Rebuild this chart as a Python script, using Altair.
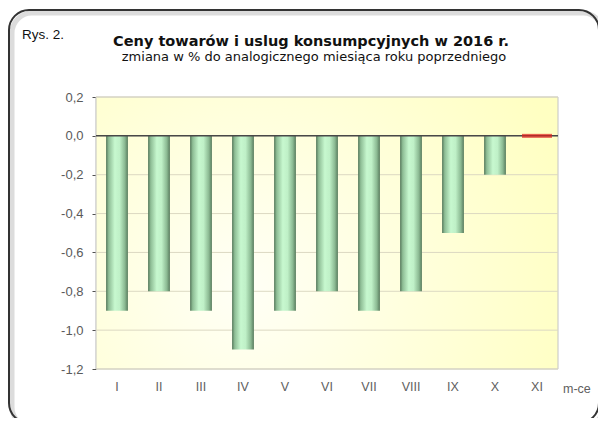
import altair as alt
import pandas as pd

months = ["I", "II", "III", "IV", "V", "VI", "VII", "VIII", "IX", "X", "XI"]
values = [-0.9, -0.8, -0.9, -1.1, -0.9, -0.8, -0.9, -0.8, -0.5, -0.2, 0.0]
y_ticks = [-1.2, -1.0, -0.8, -0.6, -0.4, -0.2, 0.0, 0.2]

label_fig = "Rys. 2."
title_main = "Ceny towarów i uslug konsumpcyjnych w 2016 r."
title_sub = "zmiana w % do analogicznego miesiąca roku poprzedniego"
x_unit = "m-ce"

df = pd.DataFrame({"month": months, "value": values})
grid_df = pd.DataFrame({"value": y_ticks})
FONT = "Liberation Sans"
TFONT = "DejaVu Sans"

x_enc = alt.X("month:N", sort=months,
              scale=alt.Scale(paddingInner=0.48, paddingOuter=0.24),
              axis=alt.Axis(title=None, labelAngle=0, ticks=False, domain=False,
                            labelPadding=11, labelFontSize=12.5, labelColor="#606060",
                            labelFont=FONT, grid=False))
y_scale = alt.Scale(domain=[-1.2, 0.2], nice=False, zero=False)
y_axis = alt.Axis(title=None, values=y_ticks, tickCount=20, grid=False,
                  labelOverlap=False, labelFlush=False, labelBound=False,
                  domainColor="#505050", domainWidth=1.2,
                  tickColor="#505050", tickSize=4, labelPadding=9,
                  labelFontSize=13, labelColor="#5a5a5a", labelFont=FONT,
                  labelExpr="replace(replace(format(datum.value, '.1f'), '.', ','), '\u2212', '-')")
y_enc = alt.Y("value:Q", scale=y_scale, axis=y_axis)

bar_grad = alt.LinearGradient(
    gradient="linear", x1=0, x2=1, y1=0, y2=0,
    stops=[alt.GradientStop(offset=0, color="#54775a"),
           alt.GradientStop(offset=0.12, color="#8ebd95"),
           alt.GradientStop(offset=0.4, color="#c7f8cf"),
           alt.GradientStop(offset=0.62, color="#bff0c7"),
           alt.GradientStop(offset=0.86, color="#8bb992"),
           alt.GradientStop(offset=1, color="#587b5d")])

bg_grad = alt.RadialGradient(gradient="radial", x1=0.32, y1=0.62, r1=0, x2=0.32, y2=0.62, r2=0.75,
                             stops=[alt.GradientStop(offset=0, color="#fffff6"),
                                    alt.GradientStop(offset=1, color="#ffffc2")])

one = alt.Data(values=[{}])

plot_bg = alt.Chart(one).mark_rect(fill=bg_grad, stroke="#c4c4c4", strokeWidth=1).encode(
    x=alt.value(0), x2=alt.value(462), y=alt.value(0), y2=alt.value(272))

grid = alt.Chart(grid_df).mark_rule(color="#dcd9c2", strokeWidth=1).encode(y=y_enc)

base = alt.Chart(df)
bars = base.transform_filter("datum.month != 'XI'").mark_bar(fill=bar_grad).encode(
    x=x_enc, y=y_enc, y2=alt.datum(0))
red = base.transform_filter("datum.month == 'XI'").mark_tick(
    color="#e0201c", thickness=4, size=30, orient="horizontal").encode(x=x_enc, y=y_enc)
zero = alt.Chart(one).mark_rule(color="#484848", strokeWidth=1.5).encode(
    y=alt.datum(0))

shadow = alt.Chart(one).mark_rect(fillOpacity=0, stroke="#c4c4c4", strokeWidth=5,
                                  strokeOpacity=0.6, cornerRadius=20).encode(
    x=alt.value(-84), x2=alt.value(507), y=alt.value(-84), y2=alt.value(330))
frame = alt.Chart(one).mark_rect(fillOpacity=0, stroke="#333333", strokeWidth=2,
                                 cornerRadius=20).encode(
    x=alt.value(-87), x2=alt.value(503), y=alt.value(-87), y2=alt.value(326))

t_fig = alt.Chart(one).mark_text(text=label_fig, font=FONT, fontSize=13.5, align="left",
                                 baseline="alphabetic", color="#111111").encode(
    x=alt.value(-74), y=alt.value(-58))
t_main = alt.Chart(one).mark_text(text=title_main, font=TFONT, fontSize=14.5, fontWeight="bold",
                                  align="center", baseline="alphabetic", color="#111111").encode(
    x=alt.value(215), y=alt.value(-51))
t_sub = alt.Chart(one).mark_text(text=title_sub, font=TFONT, fontSize=13, align="center",
                                 baseline="alphabetic", color="#111111").encode(
    x=alt.value(218), y=alt.value(-36))
t_unit = alt.Chart(one).mark_text(text=x_unit, font=FONT, fontSize=12.5, align="left",
                                  baseline="alphabetic", color="#606060").encode(
    x=alt.value(467), y=alt.value(296))

chart = alt.layer(shadow, frame, plot_bg, grid, bars, zero, red,
                  t_fig, t_main, t_sub, t_unit).properties(
    width=462, height=272,
    autosize=alt.AutoSizeParams(type="none"),
    padding={"left": 88, "top": 89, "right": 40, "bottom": 49},
    background="white",
).configure_view(stroke=None).configure_axis(labelOverlap=False)

chart.save("out.html", embed_options={"renderer": "svg", "actions": False})
